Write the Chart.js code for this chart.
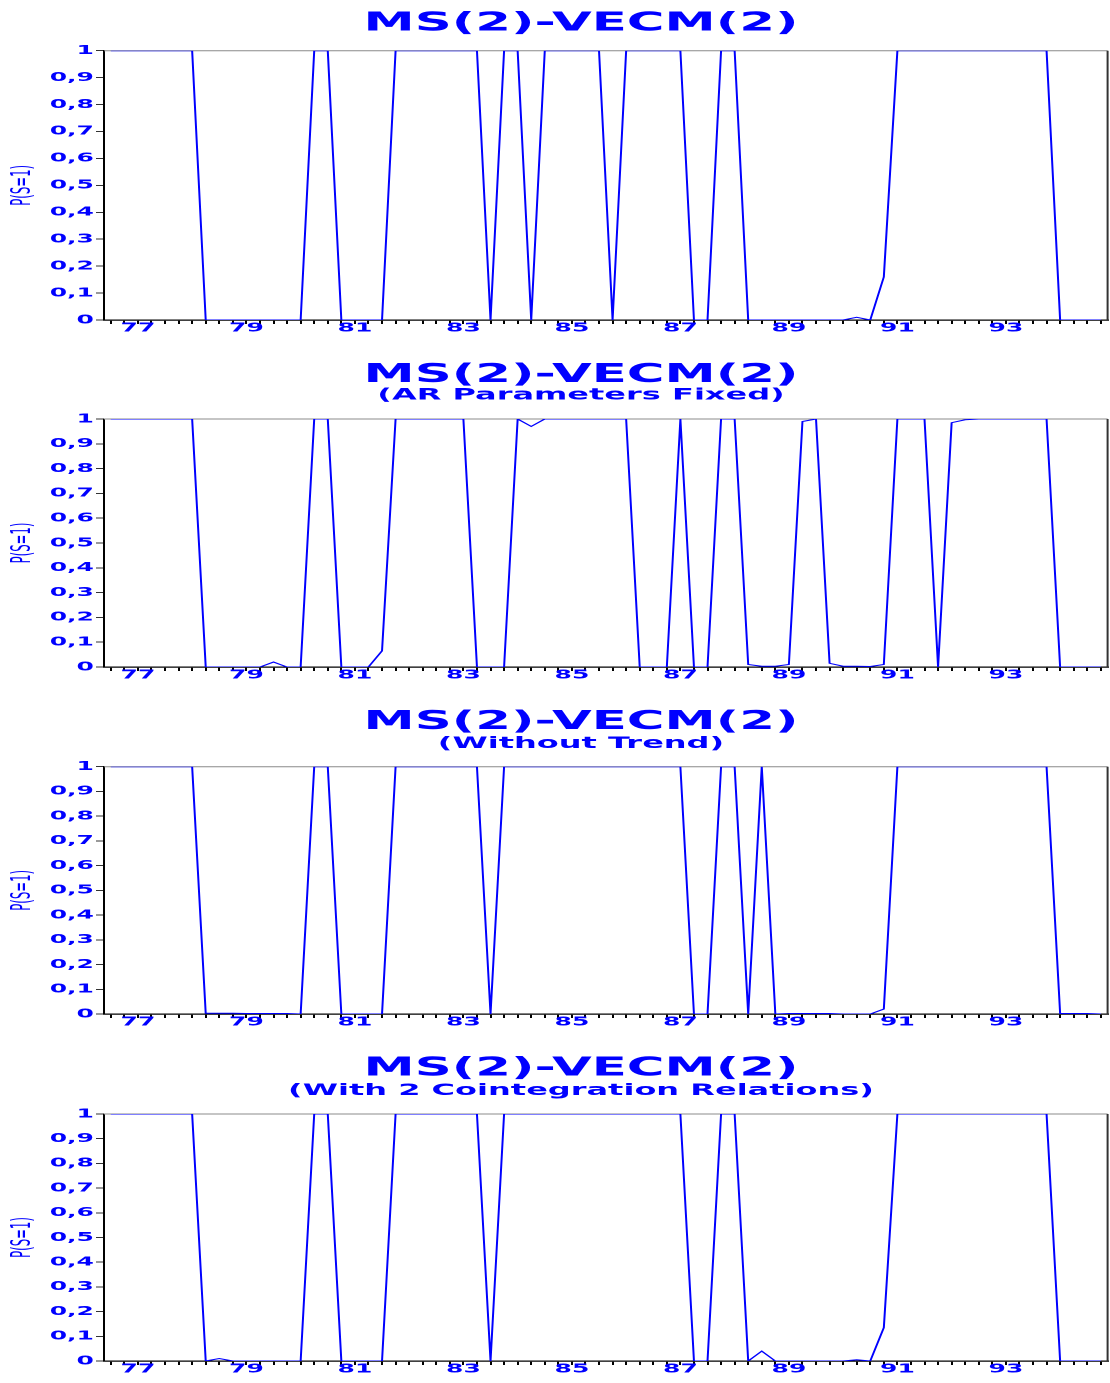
<!DOCTYPE html>
<html>
<head>
<meta charset="utf-8">
<title>MS(2)-VECM(2) regime probabilities</title>
<script src="https://cdn.jsdelivr.net/npm/chart.js@4/dist/chart.umd.min.js"></script>
<style>
  html, body { margin: 0; padding: 0; background: #fff; }
  body { width: 1110px; height: 1383px; position: relative; overflow: hidden; }
  /* the original graphs are drawn narrow and stretched sideways;
     the canvas runs a little past the right edge so the titles sit where they did */
  .panel { position: absolute; left: 0; width: 581px; transform: scaleX(2); transform-origin: 0 0; }
</style>
</head>
<body>
<div class="panel" style="top:0;height:347px"><canvas id="c1"></canvas></div>
<div class="panel" style="top:347px;height:347px"><canvas id="c2"></canvas></div>
<div class="panel" style="top:694px;height:347px"><canvas id="c3"></canvas></div>
<div class="panel" style="top:1041px;height:342px"><canvas id="c4"></canvas></div>
<script>
const quarters = [
  '1976:3','1976:4',
  '1977:1','1977:2','1977:3','1977:4','1978:1','1978:2','1978:3','1978:4',
  '1979:1','1979:2','1979:3','1979:4','1980:1','1980:2','1980:3','1980:4',
  '1981:1','1981:2','1981:3','1981:4','1982:1','1982:2','1982:3','1982:4',
  '1983:1','1983:2','1983:3','1983:4','1984:1','1984:2','1984:3','1984:4',
  '1985:1','1985:2','1985:3','1985:4','1986:1','1986:2','1986:3','1986:4',
  '1987:1','1987:2','1987:3','1987:4','1988:1','1988:2','1988:3','1988:4',
  '1989:1','1989:2','1989:3','1989:4','1990:1','1990:2','1990:3','1990:4',
  '1991:1','1991:2','1991:3','1991:4','1992:1','1992:2','1992:3','1992:4',
  '1993:1','1993:2','1993:3','1993:4','1994:1','1994:2','1994:3','1994:4'
];

const xTickLabels = ['77', '79', '81', '83', '85', '87', '89', '91', '93'];
const yTickLabels = ['0', '0,1', '0,2', '0,3', '0,4', '0,5', '0,6', '0,7', '0,8', '0,9', '1'];

const titles = ['MS(2)-VECM(2)', 'MS(2)-VECM(2)', 'MS(2)-VECM(2)', 'MS(2)-VECM(2)'];
const subtitles = ['', '(AR Parameters Fixed)', '(Without Trend)', '(With 2 Cointegration Relations)'];

// P(S=1), smoothed regime probabilities
const probBase = [
  1, 1, 1, 1, 1, 1, 1, 0, 0, 0,
  0, 0, 0, 0, 0, 1, 1, 0, 0, 0,
  0, 1, 1, 1, 1, 1, 1, 1, 0, 1,
  1, 0, 1, 1, 1, 1, 1, 0, 1, 1,
  1, 1, 1, 0, 0, 1, 1, 0, 0, 0,
  0, 0, 0, 0, 0, 0.01, 0, 0.16, 1, 1,
  1, 1, 1, 1, 1, 1, 1, 1, 1, 1,
  0, 0, 0, 0
];
const probArFixed = [
  1, 1, 1, 1, 1, 1, 1, 0, 0, 0,
  0, 0, 0.02, 0, 0, 1, 1, 0, 0, 0,
  0.065, 1, 1, 1, 1, 1, 1, 0, 0, 0,
  1, 0.97, 1, 1, 1, 1, 1, 1, 1, 0,
  0, 0, 1, 0, 0, 1, 1, 0.01, 0.003, 0.003,
  0.01, 0.99, 1, 0.015, 0.003, 0.003, 0.002, 0.01, 1, 1,
  1, 0, 0.985, 0.997, 1, 1, 1, 1, 1, 1,
  0, 0, 0, 0
];
const probNoTrend = [
  1, 1, 1, 1, 1, 1, 1, 0.003, 0.003, 0.003,
  0.002, 0.002, 0.002, 0.002, 0, 1, 1, 0, 0, 0,
  0, 1, 1, 1, 1, 1, 1, 1, 0, 1,
  1, 1, 1, 1, 1, 1, 1, 1, 1, 1,
  1, 1, 1, 0, 0, 1, 1, 0, 1, 0,
  0.002, 0.002, 0.002, 0.002, 0, 0, 0, 0.02, 1, 1,
  1, 1, 1, 1, 1, 1, 1, 1, 1, 1,
  0.002, 0.002, 0.002, 0
];
const probCoint2 = [
  1, 1, 1, 1, 1, 1, 1, 0, 0.01, 0,
  0, 0, 0, 0, 0, 1, 1, 0, 0, 0,
  0, 1, 1, 1, 1, 1, 1, 1, 0, 1,
  1, 1, 1, 1, 1, 1, 1, 1, 1, 1,
  1, 1, 1, 0, 0, 1, 1, 0, 0.04, 0,
  0, 0, 0, 0, 0, 0.005, 0, 0.135, 1, 1,
  1, 1, 1, 1, 1, 1, 1, 1, 1, 1,
  0, 0, 0, 0
];
const series = [probBase, probArFixed, probNoTrend, probCoint2];

const BLUE = '#0000ff';

// grey top edge and dark right edge of the plot box
const framePlugin = {
  id: 'frame',
  beforeDatasetsDraw(chart) {
    const { ctx, chartArea: a } = chart;
    ctx.save();
    ctx.lineWidth = 1;
    ctx.strokeStyle = '#8a8a8a';
    ctx.beginPath();
    ctx.moveTo(a.left, a.top);
    ctx.lineTo(a.right, a.top);
    ctx.stroke();
    ctx.strokeStyle = '#333';
    ctx.beginPath();
    ctx.moveTo(a.right, a.top);
    ctx.lineTo(a.right, a.bottom);
    ctx.stroke();
    ctx.restore();
  }
};

// title / subtitle padding and canvas height per panel
const layouts = [
  { h: 347, title: { top: 11.2, bottom: 13.8 }, sub: null },
  { h: 347, title: { top: 15.5, bottom: -1 }, sub: { top: 0, bottom: 15.8 } },
  { h: 347, title: { top: 15.5, bottom: 0 }, sub: { top: 0.8, bottom: 14.7 } },
  { h: 342, title: { top: 15.2, bottom: 0 }, sub: { top: 1.1, bottom: 15 } }
];

series.forEach((data, k) => {
  const lay = layouts[k];
  new Chart(document.getElementById('c' + (k + 1)), {
    type: 'line',
    data: {
      labels: quarters,
      datasets: [{
        data: data,
        borderColor: BLUE,
        borderWidth: 1,
        pointRadius: 0,
        tension: 0,
        fill: false
      }]
    },
    options: {
      responsive: true,
      maintainAspectRatio: false,
      devicePixelRatio: 2,
      animation: false,
      events: [],
      layout: { padding: 0 },
      plugins: {
        legend: { display: false },
        tooltip: { enabled: false },
        title: {
          display: true,
          text: titles[k],
          color: BLUE,
          font: { family: 'DejaVu Sans', weight: 'bold', size: 25.7, lineHeight: 1 },
          padding: lay.title
        },
        subtitle: {
          display: !!lay.sub,
          text: subtitles[k],
          color: BLUE,
          font: { family: 'DejaVu Sans', weight: 'bold', size: 16, lineHeight: 1 },
          padding: lay.sub || 0
        }
      },
      scales: {
        x: {
          offset: true,
          grid: { drawOnChartArea: false, drawTicks: true, tickLength: 4, color: '#000', lineWidth: 1 },
          border: { display: true, color: '#000', width: 1.3 },
          ticks: {
            autoSkip: false,
            maxRotation: 0,
            minRotation: 0,
            padding: -2,
            color: BLUE,
            font: { family: 'DejaVu Sans', weight: 'bold', size: 12.5, lineHeight: 1 },
            callback: function (value, index) {
              const q = quarters[index];
              const yy = q.slice(2, 4);
              return q.endsWith(':1') && xTickLabels.includes(yy) ? yy : '';
            }
          },
          afterFit: function (scale) { scale.height = lay.h - 320; }
        },
        y: {
          min: 0,
          max: 1,
          grid: { drawOnChartArea: false, drawTicks: true, tickLength: 4, color: '#333', lineWidth: 1 },
          border: { display: true, color: '#000', width: 1 },
          ticks: {
            stepSize: 0.1,
            padding: 1,
            color: BLUE,
            font: { family: 'DejaVu Sans', weight: 'bold', size: 12.5 },
            callback: function (value) { return yTickLabels[Math.round(value * 10)]; }
          },
          title: {
            display: true,
            text: 'P(S=1)',
            color: BLUE,
            font: { family: "'Liberation Sans Narrow', 'DejaVu Sans Condensed', 'Liberation Sans'", size: 13 },
            padding: { top: 4, bottom: 0 }
          },
          afterFit: function (scale) { scale.width = 52; }
        },
        // empty right-hand strip that keeps the plot edge at the window edge
        yPad: {
          position: 'right',
          display: true,
          min: 0,
          max: 1,
          grid: { display: false },
          border: { display: false },
          ticks: { display: false },
          afterFit: function (scale) { scale.width = 27.2; }
        }
      }
    },
    plugins: [framePlugin]
  });
});
</script>
</body>
</html>
